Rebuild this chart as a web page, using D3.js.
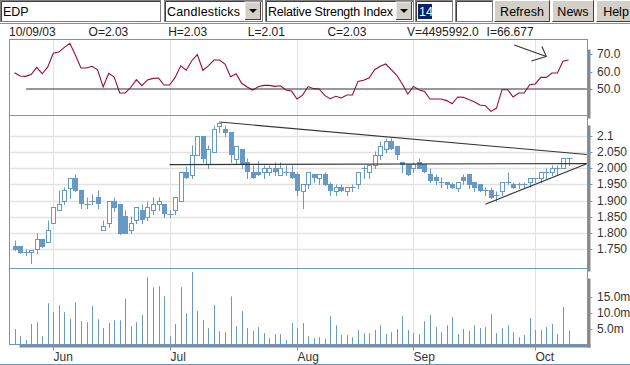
<!DOCTYPE html>
<html>
<head>
<meta charset="utf-8">
<script src="https://cdn.jsdelivr.net/npm/d3@7"></script>
<style>
  body { margin: 0; background: #fff; }
  svg { display: block; }
  text { font-family: "Liberation Sans", Arial, sans-serif; }
</style>
</head>
<body>
<div id="chart"></div>
<script>
// EDP, daily candles 22 May 2003 - 9 Oct 2003
const firstDay = new Date(2003, 4, 22);
const lastDay = new Date(2003, 9, 9);

const opens = [1.759,1.759,1.741,1.741,1.750,1.781,1.771,1.830,1.870,1.900,
  1.940,1.971,1.932,1.891,1.900,1.911,1.811,1.830,1.900,1.891,
  1.852,1.811,1.839,1.870,1.851,1.870,1.891,1.891,1.860,1.870,
  1.900,1.988,1.979,2.042,2.100,2.013,2.051,2.131,2.121,2.110,
  2.028,2.060,2.020,1.989,1.989,1.989,1.989,2.002,1.979,1.989,
  1.989,1.981,1.931,1.950,1.981,1.970,1.981,1.950,1.931,1.941,
  1.931,1.941,1.950,2.002,1.989,2.010,2.042,2.060,2.083,2.069,
  2.020,2.013,2.002,2.020,2.013,1.981,1.972,1.958,1.958,1.950,
  1.939,1.972,1.981,1.958,1.950,1.932,1.932,1.918,1.929,1.958,
  1.950,1.950,1.950,1.958,1.970,1.970,1.989,1.989,2.002,2.002,2.030];
const highs = [1.780,1.759,1.750,1.749,1.799,1.781,1.840,1.879,1.932,1.942,
  1.971,1.981,1.932,1.911,1.919,1.932,1.840,1.900,1.911,1.891,
  1.870,1.852,1.879,1.891,1.900,1.911,1.911,1.891,1.870,1.911,
  1.988,2.008,2.070,2.100,2.100,2.070,2.132,2.142,2.132,2.110,
  2.069,2.060,2.030,2.010,2.021,2.010,2.010,2.020,2.020,2.010,
  2.010,1.989,1.950,1.989,1.981,1.981,1.989,1.958,1.950,1.950,
  1.941,1.950,1.989,2.010,2.010,2.052,2.083,2.093,2.093,2.069,
  2.020,2.013,2.020,2.030,2.013,2.002,1.981,1.972,1.958,1.958,
  1.958,1.981,1.981,1.958,1.950,1.941,1.941,1.929,1.958,1.989,
  1.958,1.958,1.958,1.970,1.970,1.989,2.002,2.010,2.010,2.030,2.030];
const lows = [1.748,1.740,1.731,1.709,1.740,1.758,1.771,1.830,1.870,1.891,
  1.909,1.930,1.878,1.878,1.891,1.878,1.811,1.820,1.868,1.798,
  1.799,1.799,1.830,1.830,1.839,1.860,1.870,1.850,1.850,1.860,
  1.900,1.970,1.970,2.042,2.019,2.001,2.051,2.110,2.100,2.019,
  2.013,2.001,1.970,1.970,1.979,1.970,1.979,1.979,1.979,1.979,
  1.970,1.918,1.878,1.939,1.958,1.950,1.948,1.918,1.918,1.929,
  1.918,1.931,1.939,1.970,1.970,2.002,2.028,2.051,2.060,2.028,
  1.989,1.979,1.989,2.002,1.989,1.958,1.950,1.941,1.939,1.939,
  1.929,1.950,1.939,1.929,1.929,1.918,1.909,1.900,1.918,1.950,
  1.939,1.939,1.939,1.941,1.958,1.958,1.970,1.979,1.979,2.002,2.010];
const closes = [1.752,1.743,1.741,1.749,1.781,1.761,1.811,1.879,1.891,1.932,
  1.971,1.933,1.893,1.891,1.900,1.893,1.821,1.900,1.881,1.801,
  1.801,1.830,1.879,1.842,1.879,1.891,1.900,1.863,1.860,1.911,
  1.988,1.972,2.042,2.100,2.031,2.060,2.121,2.140,2.110,2.045,
  2.069,2.013,1.991,1.972,1.981,2.002,2.002,1.991,2.002,1.989,
  1.972,1.932,1.950,1.989,1.972,1.981,1.950,1.932,1.941,1.933,
  1.941,1.941,1.989,2.002,2.010,2.042,2.069,2.083,2.062,2.045,
  2.013,1.981,2.013,2.002,1.991,1.962,1.962,1.958,1.950,1.941,
  1.958,1.962,1.950,1.941,1.932,1.932,1.912,1.918,1.958,1.958,
  1.941,1.950,1.950,1.970,1.970,1.989,1.989,2.002,2.002,2.030,2.030];
// volume, millions of shares
const volumes = [4.9,2.75,1.4,6.5,7.1,2.6,13.1,10.3,12.5,10.3,
  8.1,13.4,7.4,7.1,12.2,8.0,5.2,6.8,7.7,7.7,
  14.5,5.8,7.1,9.3,21.4,18.2,18.5,15.3,2.6,6.5,
  18.2,9.9,23.0,10.6,7.7,5.2,12.5,4.2,3.9,15.3,
  5.8,10.6,5.2,4.2,5.5,3.6,2.0,3.3,3.3,1.4,
  6.8,5.2,6.8,2.6,2.0,2.3,1.7,9.0,6.1,3.0,
  3.0,2.3,4.6,3.6,3.6,4.6,6.1,3.3,3.9,4.9,
  9.0,4.6,3.6,3.3,7.4,9.3,5.5,3.9,6.1,8.7,
  3.3,4.9,4.2,6.1,5.2,5.5,9.6,3.6,5.2,6.1,
  3.9,2.3,3.0,8.4,4.6,4.6,5.5,6.5,3.3,11.9,4.495992];
// RSI(14)
const rsi = [59.4,57.5,57.3,58.3,62.5,58.8,62.7,70.6,71.3,74.0,
  76.3,69.4,62.1,62.1,63.1,61.1,51.2,59.0,56.9,47.7,
  47.7,51.0,55.4,51.9,55.2,56.1,56.3,52.3,52.3,56.7,
  63.4,60.8,66.3,69.8,60.8,63.3,66.7,66.7,64.4,57.1,
  58.8,53.3,51.2,49.4,51.3,52.1,52.1,51.5,51.9,49.4,
  48.8,44.2,46.5,51.4,50.2,50.0,46.3,44.4,45.8,44.8,
  46.5,46.5,54.4,55.0,56.3,61.1,63.1,64.4,61.1,57.9,
  52.9,47.1,51.5,49.6,48.6,44.2,44.2,44.2,43.3,41.5,
  45.4,45.2,43.9,42.7,40.8,40.4,37.1,39.0,49.6,49.6,
  45.4,47.7,47.7,52.5,52.9,56.7,56.7,59.2,59.2,66.0,66.677];

const priceTicks = [2.1, 2.05, 2.0, 1.95, 1.9, 1.85, 1.8, 1.75];
const priceTickLabels = ["2.1", "2.050", "2.000", "1.950", "1.900", "1.850", "1.800", "1.750"];
const rsiTicks = [70, 60, 50];
const rsiTickLabels = ["70.0", "60.0", "50.0"];
const volTicks = [15, 10, 5];
const volTickLabels = ["15.0m", "10.0m", "5.0m"];

// user-drawn lines, [day index, value]
const priceLines = [
  [[37, 2.142], [103.3, 2.042]],
  [[28, 2.011], [103.3, 2.014]],
  [[85, 1.889], [103.2, 2.013]]
];
const rsiLines = [
  [[2.1, 50], [103.3, 50]],
  [[90.2, 75.4], [96.0, 68.7]],
  [[95.2, 74.5], [96.0, 68.7]],
  [[96.0, 68.7], [93.3, 66.1]]
];

const width = 630, height = 365;
const blue = "#6699c6", gridCol = "#e2e2e2", shadowCol = "#8a8a8a";

// trading calendar (weekdays)
const days = d3.timeDay.range(firstDay, d3.timeDay.offset(lastDay, 1))
  .filter(d => d.getDay() !== 0 && d.getDay() !== 6);
const monthStarts = days.map((d, i) => ({ d, i }))
  .filter((o, k, arr) => k > 0 && o.d.getMonth() !== arr[k - 1].d.getMonth());

const left = 9.5, right = 587.5;
const panels = {
  rsi: { top: 39.5, bottom: 115.5 },
  price: { top: 115.5, bottom: 268.5 },
  vol: { top: 268.5, bottom: 344.5 }
};

const x = d3.scaleLinear().domain([0, days.length - 1]).range([14.5, 568.5]);
const yPrice = d3.scaleLinear().domain([1.75, 2.1]).range([249.3, 135.7]);
const yRsi = d3.scaleLinear().domain([50, 70]).range([89, 54.3]);
const yVol = d3.scaleLinear().domain([0, 15]).range([344.5, 297.3]);

const px = i => Math.round(x(i)) + 0.5;
const py = v => Math.round(yPrice(v)) + 0.5;

const svg = d3.select("#chart").append("svg")
  .attr("width", width).attr("height", height);

// ---- toolbar ----
const bar = svg.append("g").attr("class", "toolbar");
function sunken(x0, w) {
  bar.append("rect").attr("x", x0 + 0.5).attr("y", 0.5).attr("width", w).attr("height", 21)
    .attr("fill", "#fff").attr("stroke", "#808080");
  bar.append("path").attr("d", `M${x0 + 1.5},21 V1.5 H${x0 + w}`)
    .attr("fill", "none").attr("stroke", "#404040");
}
function dropArrow(x0) {
  bar.append("rect").attr("x", x0).attr("y", 2).attr("width", 16).attr("height", 18)
    .attr("fill", "#d4d0c8").attr("stroke", "#fff");
  bar.append("path").attr("d", `M${x0 + 15.5},2 V19.5 H${x0}`)
    .attr("fill", "none").attr("stroke", "#404040");
  bar.append("path").attr("d", `M${x0 + 4},9 h8 l-4,4 z`).attr("fill", "#000");
}
function button(x0, w, txt) {
  bar.append("rect").attr("x", x0).attr("y", 0).attr("width", w).attr("height", 22)
    .attr("fill", "#d4d0c8");
  bar.append("path").attr("d", `M${x0 + 0.5},21.5 V0.5 H${x0 + w - 0.5}`)
    .attr("fill", "none").attr("stroke", "#fff");
  bar.append("path").attr("d", `M${x0 + w - 0.5},0.5 V21.5 H${x0 + 0.5}`)
    .attr("fill", "none").attr("stroke", "#404040");
  bar.append("text").attr("x", x0 + w / 2).attr("y", 16).attr("text-anchor", "middle")
    .attr("font-size", 12.5).attr("fill", "#000").text(txt);
}
sunken(0, 160);
bar.append("text").attr("x", 3).attr("y", 16).attr("font-size", 12.5).text("EDP");
sunken(164, 98);
bar.append("text").attr("x", 167).attr("y", 16).attr("font-size", 12.5)
  .attr("textLength", 73).text("Candlesticks");
dropArrow(245);
sunken(265, 148);
bar.append("text").attr("x", 268).attr("y", 16).attr("font-size", 12.5)
  .attr("textLength", 125).text("Relative Strength Index");
dropArrow(396);
sunken(415, 37);
bar.append("rect").attr("x", 418).attr("y", 4).attr("width", 14).attr("height", 15).attr("fill", "#0a246a");
bar.append("text").attr("x", 419).attr("y", 16).attr("font-size", 12.5).attr("fill", "#fff").text("14");
sunken(455, 37);
button(494, 56, "Refresh");
button(552, 42, "News");
button(596, 40, "Help");
svg.append("line").attr("x1", 0).attr("x2", width).attr("y1", 23.5).attr("y2", 23.5)
  .attr("stroke", blue);

// ---- info line for the last day ----
const last = days.length - 1;
const info = [
  d3.timeFormat("%m/%d/%y")(days[last]),
  "O=" + opens[last].toFixed(2),
  "H=" + highs[last].toFixed(2),
  "L=" + lows[last].toFixed(2),
  "C=" + closes[last].toFixed(2),
  "V=" + (volumes[last] * 1e6).toFixed(1),
  "I=" + rsi[last].toFixed(3)
];
svg.append("g").selectAll("text").data(info).join("text")
  .attr("x", (d, i) => 9 + i * 79.6).attr("y", 35.5)
  .attr("font-family", "'Liberation Serif', 'Times New Roman', serif")
  .attr("font-size", 12).attr("fill", "#222").text(d => d);

// ---- panels: shadow, box, month grid ----
Object.values(panels).forEach(p => {
  svg.append("rect").attr("x", right).attr("y", p.top + 10)
    .attr("width", 3).attr("height", p.bottom - p.top - 7).attr("fill", shadowCol);
});
svg.append("rect").attr("x", left + 10).attr("y", panels.vol.bottom)
  .attr("width", right - left - 7).attr("height", 3).attr("fill", shadowCol);

Object.values(panels).forEach(p => {
  svg.append("rect").attr("x", left).attr("y", p.top)
    .attr("width", right - left).attr("height", p.bottom - p.top)
    .attr("fill", "#fff");
  svg.append("g").selectAll("line").data(monthStarts).join("line")
    .attr("x1", d => px(d.i)).attr("x2", d => px(d.i))
    .attr("y1", p.top).attr("y2", p.bottom)
    .attr("stroke", gridCol);
});

// price grid
svg.append("g").selectAll("line").data(priceTicks).join("line")
  .attr("x1", left).attr("x2", right)
  .attr("y1", d => py(d)).attr("y2", d => py(d))
  .attr("stroke", gridCol).attr("stroke-width", 1.4);

// ---- right-hand axes ----
function rightAxis(scale, ticks, labels, lx) {
  const g = svg.append("g");
  g.selectAll("line").data(ticks).join("line")
    .attr("x1", right).attr("x2", right + 5)
    .attr("y1", d => Math.round(scale(d)) + 0.5).attr("y2", d => Math.round(scale(d)) + 0.5)
    .attr("stroke", blue);
  g.selectAll("text").data(ticks).join("text")
    .attr("x", lx).attr("y", d => scale(d) + 4)
    .attr("font-size", 12).attr("fill", "#333")
    .text((d, i) => labels[i]);
}
rightAxis(yRsi, rsiTicks, rsiTickLabels, 597);
rightAxis(yPrice, priceTicks, priceTickLabels, 597);
rightAxis(yVol, volTicks, volTickLabels, 597);

// ---- RSI ----
const lineGen = d3.line().x((d, i) => x(i)).y(d => yRsi(d));
svg.append("path").datum(rsi).attr("d", lineGen)
  .attr("fill", "none").attr("stroke", "#9a0b35").attr("stroke-width", 1.1);

const segGen = sc => d3.line().x(d => x(d[0])).y(d => sc(d[1]));
svg.append("g").selectAll("path").data(rsiLines).join("path")
  .attr("d", segGen(yRsi)).attr("fill", "none")
  .attr("stroke", "#333").attr("stroke-width", 1.1);

// ---- candles ----
const candles = days.map((d, i) => ({
  i, o: opens[i], h: highs[i], l: lows[i], c: closes[i]
}));
const cg = svg.append("g").selectAll("g").data(candles).join("g");
cg.append("line")
  .attr("x1", d => px(d.i)).attr("x2", d => px(d.i))
  .attr("y1", d => py(d.h)).attr("y2", d => py(d.l) + 0.5)
  .attr("stroke", blue);
cg.each(function(d) {
  const g = d3.select(this);
  const top = py(Math.max(d.o, d.c)), bot = py(Math.min(d.o, d.c));
  if (bot - top < 1) {
    g.append("line").attr("x1", px(d.i) - 3).attr("x2", px(d.i) + 3)
      .attr("y1", top).attr("y2", top).attr("stroke", blue);
  } else if (d.c >= d.o) {
    g.append("rect").attr("x", px(d.i) - 2).attr("y", top)
      .attr("width", 4).attr("height", bot - top)
      .attr("fill", "#fff").attr("stroke", blue);
  } else {
    g.append("rect").attr("x", px(d.i) - 2.5).attr("y", top - 0.5)
      .attr("width", 5).attr("height", bot - top + 1)
      .attr("fill", blue);
  }
});

svg.append("g").selectAll("path").data(priceLines).join("path")
  .attr("d", segGen(yPrice)).attr("fill", "none")
  .attr("stroke", "#333").attr("stroke-width", 1.1);

// ---- volume ----
svg.append("g").selectAll("line").data(volumes).join("line")
  .attr("x1", (d, i) => px(i)).attr("x2", (d, i) => px(i))
  .attr("y1", d => yVol(d)).attr("y2", panels.vol.bottom)
  .attr("stroke", blue);

// panel borders on top
Object.values(panels).forEach(p => {
  svg.append("rect").attr("x", left).attr("y", p.top)
    .attr("width", right - left).attr("height", p.bottom - p.top)
    .attr("fill", "none").attr("stroke", blue);
});

// ---- month axis ----
const ax = svg.append("g");
ax.selectAll("line").data(monthStarts).join("line")
  .attr("x1", d => px(d.i)).attr("x2", d => px(d.i))
  .attr("y1", panels.vol.bottom).attr("y2", panels.vol.bottom + 6)
  .attr("stroke", blue);
ax.selectAll("text").data(monthStarts).join("text")
  .attr("x", d => px(d.i)).attr("y", 361)
  .attr("font-size", 12).attr("fill", "#333")
  .text(d => d3.timeFormat("%b")(d.d));

svg.append("line").attr("x1", 0).attr("x2", width).attr("y1", 364.5).attr("y2", 364.5)
  .attr("stroke", blue);
</script>
</body>
</html>
